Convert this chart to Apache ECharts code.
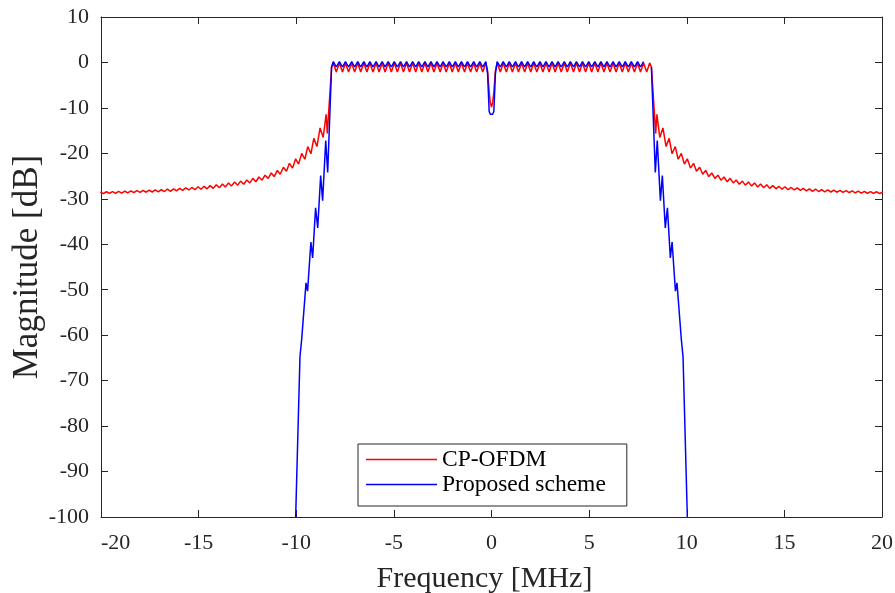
<!DOCTYPE html>
<html>
<head>
<meta charset="utf-8">
<script src="https://cdn.jsdelivr.net/npm/echarts@6/dist/echarts.min.js"></script>
<style>
html,body{margin:0;padding:0;background:#fff;}
#chart{width:895px;height:593px;}
</style>
</head>
<body>
<div id="chart"></div>
<script>
// ---- Data ----
const xTicks = [-20, -15, -10, -5, 0, 5, 10, 15, 20];
const yTicks = [10, 0, -10, -20, -30, -40, -50, -60, -70, -80, -90, -100];

// Passband frequencies (MHz), peaks/troughs of the ripple plus the DC notch
const passFreq = [-8.10,-7.95,-7.79,-7.63,-7.48,-7.32,-7.16,-7.01,-6.85,-6.70,-6.54,-6.38,-6.23,-6.07,-5.91,-5.76,-5.60,-5.45,-5.29,-5.13,-4.98,-4.82,-4.66,-4.51,-4.35,-4.20,-4.04,-3.88,-3.73,-3.57,-3.41,-3.26,-3.10,-2.95,-2.79,-2.63,-2.48,-2.32,-2.16,-2.01,-1.85,-1.70,-1.54,-1.38,-1.23,-1.07,-0.91,-0.76,-0.60,-0.45,-0.29,
  -0.20,-0.12,-0.06,0,0.06,0.12,0.20,
  0.29,0.45,0.60,0.76,0.91,1.07,1.23,1.38,1.54,1.70,1.85,2.01,2.16,2.32,2.48,2.63,2.79,2.95,3.10,3.26,3.41,3.57,3.73,3.88,4.04,4.20,4.35,4.51,4.66,4.82,4.98,5.13,5.29,5.45,5.60,5.76,5.91,6.07,6.23,6.38,6.54,6.70,6.85,7.01,7.16,7.32,7.48,7.63,7.79,7.95,8.10];

const redPassMag = [-0.1,-2.1,-0.1,-2.1,-0.1,-2.1,-0.1,-2.1,-0.1,-2.1,-0.1,-2.1,-0.1,-2.1,-0.1,-2.1,-0.1,-2.1,-0.1,-2.1,-0.1,-2.1,-0.1,-2.1,-0.1,-2.1,-0.1,-2.1,-0.1,-2.1,-0.1,-2.1,-0.1,-2.1,-0.1,-2.1,-0.1,-2.1,-0.1,-2.1,-0.1,-2.1,-0.1,-2.1,-0.1,-2.1,-0.1,-2.1,-0.1,-2.1,-0.1,
  -1.8,-6.5,-8.8,-9.8,-8.8,-6.5,-1.8,
  -0.1,-2.1,-0.1,-2.1,-0.1,-2.1,-0.1,-2.1,-0.1,-2.1,-0.1,-2.1,-0.1,-2.1,-0.1,-2.1,-0.1,-2.1,-0.1,-2.1,-0.1,-2.1,-0.1,-2.1,-0.1,-2.1,-0.1,-2.1,-0.1,-2.1,-0.1,-2.1,-0.1,-2.1,-0.1,-2.1,-0.1,-2.1,-0.1,-2.1,-0.1,-2.1,-0.1,-2.1,-0.1,-2.1,-0.1,-2.1,-0.1,-2.1,-0.1];

const bluePassMag = [0.2,-1.0,0.2,-1.0,0.2,-1.0,0.2,-1.0,0.2,-1.0,0.2,-1.0,0.2,-1.0,0.2,-1.0,0.2,-1.0,0.2,-1.0,0.2,-1.0,0.2,-1.0,0.2,-1.0,0.2,-1.0,0.2,-1.0,0.2,-1.0,0.2,-1.0,0.2,-1.0,0.2,-1.0,0.2,-1.0,0.2,-1.0,0.2,-1.0,0.2,-1.0,0.2,-1.0,0.2,-1.0,0.2,
  -2.5,-10.8,-11.4,-11.4,-11.4,-10.8,-2.5,
  0.2,-1.0,0.2,-1.0,0.2,-1.0,0.2,-1.0,0.2,-1.0,0.2,-1.0,0.2,-1.0,0.2,-1.0,0.2,-1.0,0.2,-1.0,0.2,-1.0,0.2,-1.0,0.2,-1.0,0.2,-1.0,0.2,-1.0,0.2,-1.0,0.2,-1.0,0.2,-1.0,0.2,-1.0,0.2,-1.0,0.2,-1.0,0.2,-1.0,0.2,-1.0,0.2,-1.0,0.2];

// CP-OFDM out-of-band skirts
const redLeftFreq = [-20.03,-19.88,-19.72,-19.57,-19.41,-19.25,-19.10,-18.94,-18.78,-18.63,-18.47,-18.32,-18.16,-18.00,-17.85,-17.69,-17.53,-17.38,-17.22,-17.07,-16.91,-16.75,-16.60,-16.44,-16.28,-16.13,-15.97,-15.82,-15.66,-15.50,-15.35,-15.19,-15.03,-14.88,-14.72,-14.57,-14.41,-14.25,-14.10,-13.94,-13.78,-13.63,-13.47,-13.32,-13.16,-13.00,-12.85,-12.69,-12.53,-12.38,-12.22,-12.07,-11.91,-11.75,-11.60,-11.44,-11.28,-11.13,-10.97,-10.82,-10.66,-10.50,-10.35,-10.19,-10.03,-9.88,-9.72,-9.56,-9.41,-9.25,-9.10,-8.94,-8.78,-8.62,-8.47,-8.41,-8.19];
const redLeftMag = [-28.5,-28.85,-28.45,-28.8,-28.4,-28.8,-28.35,-28.75,-28.3,-28.7,-28.25,-28.65,-28.2,-28.6,-28.15,-28.55,-28.1,-28.5,-28.05,-28.45,-28.0,-28.4,-27.85,-28.35,-27.8,-28.25,-27.7,-28.15,-27.6,-28.05,-27.5,-28.0,-27.35,-27.9,-27.25,-27.8,-27.1,-27.7,-26.9,-27.55,-26.75,-27.4,-26.5,-27.2,-26.3,-27.0,-26.1,-26.8,-25.85,-26.5,-25.5,-26.25,-25.2,-25.9,-24.8,-25.5,-24.3,-25.1,-23.75,-24.6,-23.05,-23.95,-22.2,-23.25,-21.2,-22.35,-20.0,-21.3,-18.5,-20.1,-16.7,-18.5,-14.4,-16.5,-11.4,-15.6,-1.0];

const redRightFreq = [8.19,8.41,8.47,8.62,8.78,8.94,9.10,9.25,9.41,9.56,9.72,9.88,10.03,10.19,10.35,10.50,10.66,10.82,10.97,11.13,11.28,11.44,11.60,11.75,11.91,12.07,12.22,12.38,12.53,12.69,12.85,13.00,13.16,13.32,13.47,13.63,13.78,13.94,14.10,14.25,14.41,14.57,14.72,14.88,15.03,15.19,15.35,15.50,15.66,15.82,15.97,16.13,16.28,16.44,16.60,16.75,16.91,17.07,17.22,17.38,17.53,17.69,17.85,18.00,18.16,18.32,18.47,18.63,18.78,18.94,19.10,19.25,19.41,19.57,19.72,19.88,20.03];
const redRightMag = [-1.0,-15.6,-11.4,-16.5,-14.4,-18.5,-16.7,-20.1,-18.5,-21.3,-20.0,-22.35,-21.2,-23.25,-22.2,-23.95,-23.05,-24.6,-23.75,-25.1,-24.3,-25.5,-24.8,-25.9,-25.2,-26.25,-25.5,-26.5,-25.85,-26.8,-26.1,-27.0,-26.3,-27.2,-26.5,-27.4,-26.75,-27.55,-26.9,-27.7,-27.1,-27.8,-27.25,-27.9,-27.35,-28.0,-27.5,-28.05,-27.6,-28.15,-27.7,-28.25,-27.8,-28.35,-27.85,-28.4,-28.0,-28.45,-28.05,-28.5,-28.1,-28.55,-28.15,-28.6,-28.2,-28.65,-28.25,-28.7,-28.3,-28.75,-28.35,-28.8,-28.4,-28.8,-28.45,-28.85,-28.5];

// Proposed scheme skirts
const blueLeftFreq = [-10.03,-9.81,-9.72,-9.50,-9.42,-9.25,-9.16,-9.01,-8.90,-8.75,-8.65,-8.49,-8.39,-8.19];
const blueLeftMag  = [-100,-64.8,-60.8,-48.5,-50.3,-39.5,-43.0,-32.0,-36.4,-24.9,-30.4,-17.2,-24.2,-1.0];
const blueRightFreq = [8.19,8.39,8.49,8.65,8.75,8.90,9.01,9.16,9.25,9.42,9.50,9.72,9.81,10.03];
const blueRightMag  = [-1.0,-24.2,-17.2,-30.4,-24.9,-36.4,-32.0,-43.0,-39.5,-50.3,-48.5,-60.8,-64.8,-100];

// ---- Build data tables ----
function pairs(xs, ys){ return xs.map((x,i)=>[x, ys[i]]); }
const redData = [].concat(pairs(redLeftFreq, redLeftMag), pairs(passFreq, redPassMag), pairs(redRightFreq, redRightMag));
const blueData = [].concat(pairs(blueLeftFreq, blueLeftMag), pairs(passFreq, bluePassMag), pairs(blueRightFreq, blueRightMag));

const FONT = 'Liberation Serif';
const AX = '#262626';
const chart = echarts.init(document.getElementById('chart'), null, {renderer:'canvas'});
const tickStyle = {show:true, inside:true, length:7, lineStyle:{color:AX, width:1}};
chart.setOption({
  animation:false,
  backgroundColor:'#fff',
  grid:{left:101, right:13, top:17, bottom:76, outerBoundsMode:'none', containLabel:false},
  legend:{
    orient:'vertical', left:358, top:444,
    data:['CP-OFDM','Proposed scheme'],
    icon:'rect', itemWidth:71, itemHeight:1.5, itemGap:0,
    padding:[3, 21, 9, 8],
    borderColor:AX, borderWidth:1, backgroundColor:'#fff', borderRadius:0,
    selectedMode:false,
    textStyle:{fontFamily:FONT, fontSize:23.5, color:'#000', lineHeight:25}
  },
  xAxis:[{
    type:'value', min:xTicks[0], max:xTicks[xTicks.length-1], interval:5, position:'bottom',
    name:'Frequency [MHz]', nameLocation:'middle', nameGap:47, nameMoveOverlap:false,
    nameTextStyle:{fontFamily:FONT, fontSize:30, color:AX, padding:[0,14,0,0]},
    axisLine:{show:true, onZero:false, lineStyle:{color:AX, width:1}},
    axisTick:tickStyle,
    axisLabel:{fontFamily:FONT, fontSize:22, color:AX, margin:15, alignMinLabel:'left'},
    splitLine:{show:false}
  },{
    type:'value', min:xTicks[0], max:xTicks[xTicks.length-1], interval:5, position:'top',
    axisLine:{show:true, onZero:false, lineStyle:{color:AX, width:1}},
    axisTick:tickStyle, axisLabel:{show:false}, splitLine:{show:false}
  }],
  yAxis:[{
    type:'value', min:yTicks[yTicks.length-1], max:yTicks[0], interval:10, position:'left',
    name:'Magnitude [dB]', nameLocation:'middle', nameGap:56, nameRotate:90, nameMoveOverlap:false,
    nameTextStyle:{fontFamily:FONT, fontSize:35, color:AX},
    axisLine:{show:true, onZero:false, lineStyle:{color:AX, width:1}},
    axisTick:tickStyle,
    axisLabel:{fontFamily:FONT, fontSize:22, color:AX, margin:12},
    splitLine:{show:false}
  },{
    type:'value', min:yTicks[yTicks.length-1], max:yTicks[0], interval:10, position:'right',
    axisLine:{show:true, onZero:false, lineStyle:{color:AX, width:1}},
    axisTick:tickStyle, axisLabel:{show:false}, splitLine:{show:false}
  }],
  series:[{
    name:'CP-OFDM', type:'line', data:redData, showSymbol:false, symbol:'none',
    lineStyle:{color:'#ff0000', width:1.5}, itemStyle:{color:'#ff0000'}, clip:true
  },{
    name:'Proposed scheme', type:'line', data:blueData, showSymbol:false, symbol:'none',
    lineStyle:{color:'#0000ff', width:1.5}, itemStyle:{color:'#0000ff'}, clip:true
  }]
});
</script>
</body>
</html>
